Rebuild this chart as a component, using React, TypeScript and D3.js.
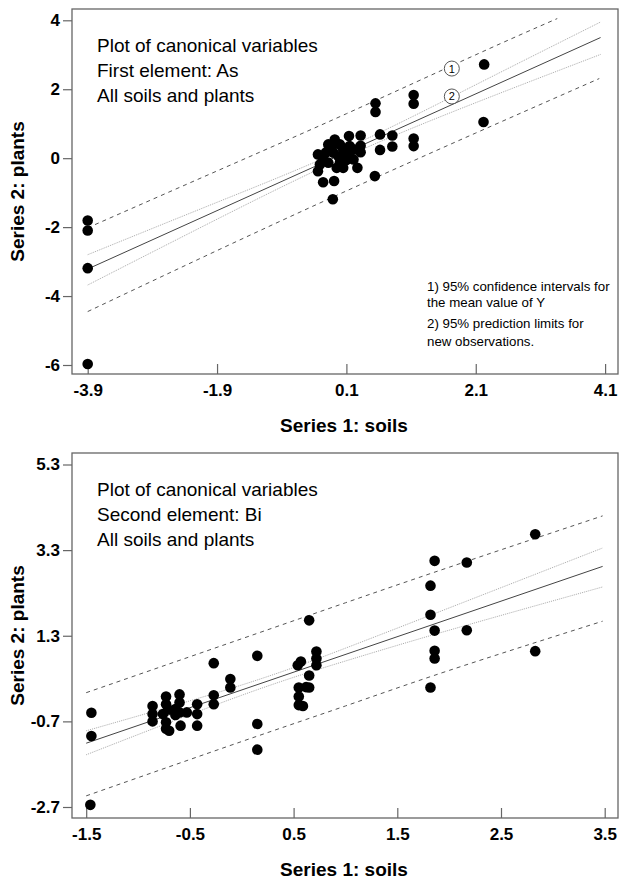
import { useEffect, useRef } from 'react';
import * as d3 from 'd3';

// ---- Panel 1: first element As ----
const asTicksX = [-3.9, -1.9, 0.1, 2.1, 4.1];
const asTicksY = [-6, -4, -2, 0, 2, 4];
const asTitle = ['Plot of canonical variables', 'First element: As', 'All soils and plants'];
const asSoils = [
  -3.9, -3.9, -3.9, -3.9, 2.23, 2.22, 1.14, 1.14, 1.14, 1.14, 0.55, 0.55, 0.62, 0.62, 0.81, 0.81,
  0.54, 0.27, 0.32, 0.32, 0.32, 0.14, -0.26, -0.09, -0.11, -0.34, -0.34, -0.18, -0.08, -0.26, 0.0,
  0.1, 0.15, 0.05, -0.1, -0.18, -0.05, 0.05, 0.21, 0.23, -0.31, -0.22, 0.0, -0.12, 0.1, -0.02, 0.15,
];
const asPlants = [
  -1.81, -2.1, -3.19, -5.97, 2.72, 1.05, 1.83, 1.58, 0.57, 0.35, 1.59, 1.34, 0.69, 0.24, 0.66, 0.34,
  -0.52, -0.28, 0.66, 0.36, 0.17, 0.64, -0.7, -0.66, -1.19, 0.11, -0.38, 0.4, 0.54, -0.04, -0.13,
  0.16, 0.35, 0.25, 0.16, -0.13, -0.28, -0.28, -0.04, 0.25, -0.18, 0.16, 0.4, 0.35, -0.05, 0.05, 0.05,
];
const asFitX = [-3.9, 4.03];
const asFitY = [-3.215, 3.5];
const asBandX = [-3.9, -1.9, 0.1, 2.1, 4.03];
const asConfUpper = [-2.8, -1.28, 0.29, 2.13, 3.95];
const asConfLower = [-3.68, -1.77, 0.05, 1.61, 3.01];
const asPredUpperX = [-3.9, -1.9, 0.1, 2.1, 3.36];
const asPredUpper = [-2.02, -0.37, 1.29, 3.0, 4.05];
const asPredLowerX = [-3.9, -1.9, 0.1, 2.1, 4.01];
const asPredLower = [-4.45, -2.68, -0.95, 0.73, 2.31];
const asMarkLabels = ['1', '2'];
const asMarkX = [1.73, 1.73];
const asMarkY = [2.6, 1.79];
const notes = [
  '1) 95% confidence intervals for',
  'the mean value of Y',
  '2) 95% prediction limits for',
  'new observations.',
];

// ---- Panel 2: second element Bi ----
const biTicksX = [-1.5, -0.5, 0.5, 1.5, 2.5, 3.5];
const biTicksY = [-2.7, -0.7, 1.3, 3.3, 5.3];
const biTitle = ['Plot of canonical variables', 'Second element: Bi', 'All soils and plants'];
const biSoils = [
  -1.46, -1.45, -1.45, -0.86, -0.86, -0.86, -0.73, -0.73, -0.71, -0.76, -0.73, -0.73, -0.7, -0.64,
  -0.64, -0.6, -0.6, -0.6, -0.59, -0.53, -0.43, -0.43, -0.43, -0.27, -0.27, -0.27, -0.11, -0.11,
  0.15, 0.15, 0.15, 0.65, 0.54, 0.57, 0.72, 0.72, 0.72, 0.65, 0.65, 0.55, 0.62, 0.55, 0.55, 0.59,
  1.82, 1.86, 2.17, 1.86, 1.86, 1.82, 2.83, 1.86, 1.82, 2.17, 2.83,
];
const biPlants = [
  -2.65, -0.5, -1.04, -0.34, -0.53, -0.7, -0.12, -0.3, -0.42, -0.53, -0.72, -0.87, -0.92, -0.41,
  -0.55, -0.07, -0.26, -0.49, -0.8, -0.49, -0.3, -0.53, -0.8, -0.09, -0.3, 0.66, 0.29, 0.09,
  0.83, -0.76, -1.36, 1.66, 0.61, 0.7, 0.93, 0.77, 0.61, 0.37, 0.09, 0.09, 0.1, -0.12, -0.32, -0.34,
  1.79, 1.42, 1.43, 0.95, 0.77, 0.09, 0.94, 3.05, 2.47, 3.01, 3.67,
];
const biFitX = [-1.5, 3.48];
const biFitY = [-1.21, 2.92];
const biBandX = [-1.5, 0, 1, 2, 3.48];
const biConfUpper = [-0.92, 0.15, 1.01, 1.95, 3.35];
const biConfLower = [-1.48, -0.09, 0.71, 1.43, 2.44];
const biPredUpper = [-0.03, 1.23, 2.07, 2.9, 4.1];
const biPredLower = [-2.44, -1.17, -0.34, 0.49, 1.64];

const FONT = 'Liberation Sans, Arial, sans-serif';

interface PanelProps {
  top: number;
  ticksX: number[];
  ticksY: number[];
  xRange: [number, number];
  yRange: [number, number];
  title: string[];
  soils: number[];
  plants: number[];
  fitX: number[];
  fitY: number[];
  bandX: number[];
  confUpper: number[];
  confLower: number[];
  predUpperX: number[];
  predUpper: number[];
  predLowerX: number[];
  predLower: number[];
  withNotes?: boolean;
}

function Panel(p: PanelProps) {
  const gRef = useRef<SVGGElement>(null);

  useEffect(() => {
    if (!gRef.current) return;
    const g = d3.select(gRef.current);
    g.selectAll('*').remove();

    const left = 72;
    const right = 618;
    const top = p.top;
    const bottom = p.top + 365;

    const x = d3.scaleLinear().domain([p.ticksX[0], p.ticksX[p.ticksX.length - 1]]).range(p.xRange);
    const y = d3.scaleLinear().domain([p.ticksY[0], p.ticksY[p.ticksY.length - 1]]).range(p.yRange);

    // frame
    g.append('rect')
      .attr('x', left)
      .attr('y', top)
      .attr('width', right - left)
      .attr('height', bottom - top)
      .attr('fill', 'none')
      .attr('stroke', '#666')
      .attr('stroke-width', 1.3);

    // axes
    const yAxis = g
      .append('g')
      .attr('transform', `translate(${left},0)`)
      .call(
        d3.axisLeft(y).tickValues(p.ticksY).tickSize(9).tickPadding(3).tickFormat(d => String(d))
      );
    const xAxis = g
      .append('g')
      .attr('transform', `translate(0,${bottom})`)
      .call(
        d3.axisBottom(x).tickValues(p.ticksX).tickSizeInner(-10).tickSizeOuter(0).tickPadding(10)
          .tickFormat(d => String(d))
      );
    [yAxis, xAxis].forEach(a => {
      a.select('.domain').remove();
      a.selectAll('line').attr('stroke', '#666').attr('stroke-width', 1.2);
      a.selectAll('text')
        .attr('fill', '#000')
        .attr('font-family', FONT)
        .attr('font-weight', 'bold')
        .attr('font-size', 17);
    });

    // axis titles
    g.append('text')
      .attr('x', 344)
      .attr('y', bottom + 58)
      .attr('text-anchor', 'middle')
      .attr('font-family', FONT)
      .attr('font-weight', 'bold')
      .attr('font-size', 19)
      .text('Series 1: soils');
    g.append('text')
      .attr('transform', `translate(24,${(top + bottom) / 2}) rotate(-90)`)
      .attr('text-anchor', 'middle')
      .attr('font-family', FONT)
      .attr('font-weight', 'bold')
      .attr('font-size', 19)
      .text('Series 2: plants');

    // title block
    g.append('g')
      .selectAll('text')
      .data(p.title)
      .join('text')
      .attr('x', 97)
      .attr('y', (_, i) => top + 43 + i * 25)
      .attr('font-family', FONT)
      .attr('font-size', 19)
      .text(d => d);

    // bands and fit
    const pts = (xs: number[], ys: number[]) => xs.map((v, i) => [v, ys[i]] as [number, number]);
    const curve = d3.line<[number, number]>().x(d => x(d[0])).y(d => y(d[1])).curve(d3.curveNatural);
    const straight = d3.line<[number, number]>().x(d => x(d[0])).y(d => y(d[1]));

    const lines: { d: string | null; stroke: string; dash: string | null; w: number }[] = [
      { d: curve(pts(p.predUpperX, p.predUpper)), stroke: '#555', dash: '4,4', w: 1 },
      { d: curve(pts(p.predLowerX, p.predLower)), stroke: '#555', dash: '4,4', w: 1 },
      { d: curve(pts(p.bandX, p.confUpper)), stroke: '#aaa', dash: '1,1', w: 1 },
      { d: curve(pts(p.bandX, p.confLower)), stroke: '#aaa', dash: '1,1', w: 1 },
      { d: straight(pts(p.fitX, p.fitY)), stroke: '#444', dash: null, w: 1 },
    ];
    g.append('g')
      .selectAll('path')
      .data(lines)
      .join('path')
      .attr('d', d => d.d ?? '')
      .attr('fill', 'none')
      .attr('stroke', d => d.stroke)
      .attr('stroke-width', d => d.w)
      .attr('stroke-dasharray', d => d.dash);

    // points
    g.append('g')
      .selectAll('circle')
      .data(p.soils.map((s, i) => [s, p.plants[i]]))
      .join('circle')
      .attr('cx', d => x(d[0]))
      .attr('cy', d => y(d[1]))
      .attr('r', 5.3)
      .attr('fill', '#000');

    if (p.withNotes) {
      const marks = g.append('g').selectAll('g').data(asMarkLabels).join('g')
        .attr('transform', (_, i) => `translate(${x(asMarkX[i])},${y(asMarkY[i])})`);
      marks.append('circle').attr('r', 7.5).attr('fill', '#fff').attr('stroke', '#444').attr('stroke-width', 0.9);
      marks.append('text')
        .attr('text-anchor', 'middle')
        .attr('dy', '0.36em')
        .attr('font-family', FONT)
        .attr('font-size', 11)
        .text(d => d);

      g.append('g')
        .selectAll('text')
        .data(notes)
        .join('text')
        .attr('x', 427)
        .attr('y', (_, i) => [291, 306.5, 328, 345.5][i])
        .attr('font-family', FONT)
        .attr('font-size', 13.3)
        .text(d => d);
    }
  }, [p]);

  return <g ref={gRef} />;
}

export default function App() {
  return (
    <svg
      width={620}
      height={883}
      style={{ position: 'absolute', left: 0, top: 0, background: '#fff' }}
    >
      <rect width={620} height={883} fill="#fff" />
      <Panel
        top={9}
        ticksX={asTicksX}
        ticksY={asTicksY}
        xRange={[87.7, 605.1]}
        yRange={[365, 20.3]}
        title={asTitle}
        soils={asSoils}
        plants={asPlants}
        fitX={asFitX}
        fitY={asFitY}
        bandX={asBandX}
        confUpper={asConfUpper}
        confLower={asConfLower}
        predUpperX={asPredUpperX}
        predUpper={asPredUpper}
        predLowerX={asPredLowerX}
        predLower={asPredLower}
        withNotes
      />
      <Panel
        top={453}
        ticksX={biTicksX}
        ticksY={biTicksY}
        xRange={[86.2, 604.7]}
        yRange={[807, 464.5]}
        title={biTitle}
        soils={biSoils}
        plants={biPlants}
        fitX={biFitX}
        fitY={biFitY}
        bandX={biBandX}
        confUpper={biConfUpper}
        confLower={biConfLower}
        predUpperX={biBandX}
        predUpper={biPredUpper}
        predLowerX={biBandX}
        predLower={biPredLower}
      />
    </svg>
  );
}
